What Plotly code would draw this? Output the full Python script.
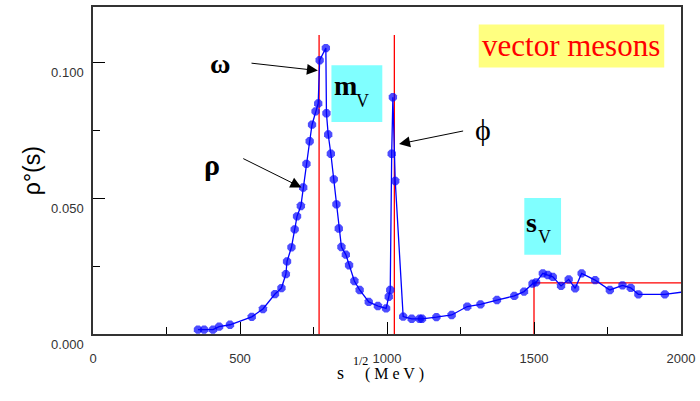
import plotly.graph_objects as go

# ---- data ----
sqrt_s = [357, 378, 408, 429, 466, 540, 578, 619, 641, 656, 660, 675, 686, 694, 707,
          715, 726, 737, 745, 757, 766, 771, 792, 794, 800, 809, 819, 828, 836, 845,
          860, 871, 889, 907, 938, 969, 997, 1006, 1011, 1016, 1020, 1028, 1055, 1084,
          1111, 1119, 1168, 1220, 1273, 1318, 1374, 1433, 1466, 1495, 1507, 1530, 1547,
          1564, 1592, 1618, 1640, 1662, 1708, 1758, 1801, 1829, 1855, 1945, 2010]
rho = [0.0016, 0.0016, 0.0016, 0.0027, 0.0034, 0.0063, 0.0092, 0.0147, 0.0169, 0.0220,
       0.0267, 0.0319, 0.0385, 0.0433, 0.0471, 0.0539, 0.0626, 0.0709, 0.0770, 0.0819,
       0.0848, 0.1007, 0.1052, 0.0812, 0.0734, 0.0663, 0.0569, 0.0477, 0.0388, 0.0320,
       0.0292, 0.0253, 0.0195, 0.0162, 0.0118, 0.0103, 0.0094, 0.0137, 0.0162, 0.0663,
       0.0871, 0.0563, 0.0064, 0.0056, 0.0056, 0.0056, 0.0062, 0.0070, 0.0101, 0.0109,
       0.0125, 0.0140, 0.0156, 0.0185, 0.0190, 0.0223, 0.0217, 0.0210, 0.0177, 0.0201,
       0.0168, 0.0223, 0.0198, 0.0162, 0.0179, 0.0170, 0.0146, 0.0146, 0.0155]
# last point is only the continuation of the line past the frame
marker_sizes = [9] * (len(sqrt_s) - 1) + [0]

mass_lines = [769, 1025]      # m_V vertical lines
mass_line_top = 0.110
threshold_x = [1500, 1500, 2000]   # s_V step
threshold_y = [0.0, 0.0188, 0.0188]

x_ticks = [0, 500, 1000, 1500, 2000]
y_ticks = [0.0, 0.05, 0.10]

RED = "#ff0000"
BLUE = "#0000ff"

fig = go.Figure()

for xm in mass_lines:
    fig.add_trace(go.Scatter(x=[xm, xm], y=[0, mass_line_top], mode="lines",
                             line=dict(color=RED, width=1.3), hoverinfo="skip"))
fig.add_trace(go.Scatter(x=threshold_x, y=threshold_y, mode="lines",
                         line=dict(color=RED, width=1.3), hoverinfo="skip"))

fig.add_trace(go.Scatter(x=sqrt_s, y=rho, mode="lines+markers",
                         line=dict(color=BLUE, width=1.3),
                         marker=dict(color=BLUE, size=marker_sizes, symbol="octagon",
                                     line=dict(width=0))))

# ---- boxes ----
fig.add_shape(type="rect", x0=811, x1=984, y0=0.0780, y1=0.0989,
              fillcolor="#80ffff", line=dict(width=0), layer="below")
fig.add_shape(type="rect", x0=1467, x1=1592, y0=0.0292, y1=0.0500,
              fillcolor="#80ffff", line=dict(width=0), layer="below")
fig.add_shape(type="rect", x0=1312, x1=1943, y0=0.0980, y1=0.1139,
              fillcolor="#ffff80", line=dict(width=0), layer="below")

serif = "Liberation Serif"
ann = []
ann.append(dict(x=1627, y=0.1060, text="vector mesons", showarrow=False,
                font=dict(family=serif, size=31, color=RED)))
ann.append(dict(x=858, y=0.0915, text="<b>m</b>", showarrow=False,
                font=dict(family=serif, size=28, color="black")))
ann.append(dict(x=918, y=0.0858, text="V", showarrow=False,
                font=dict(family=serif, size=18, color="black")))
ann.append(dict(x=1493, y=0.0411, text="<b>s</b>", showarrow=False,
                font=dict(family=serif, size=28, color="black")))
ann.append(dict(x=1537, y=0.0358, text="V", showarrow=False,
                font=dict(family=serif, size=18, color="black")))
ann.append(dict(x=432, y=0.0994, text="<b>ω</b>", showarrow=False,
                font=dict(family=serif, size=28, color="black")))
ann.append(dict(x=405, y=0.0625, text="<b>ρ</b>", showarrow=False,
                font=dict(family=serif, size=30, color="black")))
ann.append(dict(x=1326, y=0.0752, text="ϕ", showarrow=False,
                font=dict(family=serif, size=30, color="black")))
# arrows
for (x0, y0, x1, y1) in [(534, 0.0997, 765, 0.0969),
                         (506, 0.0648, 709, 0.0539),
                         (1264, 0.0748, 1041, 0.0699)]:
    ann.append(dict(x=x1, y=y1, ax=x0, ay=y0, xref="x", yref="y", axref="x", ayref="y",
                    text="", showarrow=True, arrowhead=2, arrowsize=2.2,
                    arrowwidth=1, arrowcolor="black"))

# axis titles
ann.append(dict(xref="paper", yref="paper", x=(32 - 93) / 590, y=(334.3 - 170) / 329.6,
                xanchor="center", yanchor="middle",
                text="ρ°(s)", textangle=-90, showarrow=False,
                font=dict(family="Liberation Sans", size=23, color="black")))
ann.append(dict(xref="paper", yref="paper", x=(341 - 93) / 590, y=(334.3 - 386) / 329.6,
                xanchor="center", text="s", showarrow=False,
                font=dict(family=serif, size=18, color="black")))
ann.append(dict(xref="paper", yref="paper", x=(361 - 93) / 590, y=(334.3 - 371) / 329.6,
                xanchor="center", text="1/2", showarrow=False,
                font=dict(family=serif, size=12, color="black")))
ann.append(dict(xref="paper", yref="paper", x=(396 - 93) / 590, y=(334.3 - 386) / 329.6,
                xanchor="center", text="( M e V )", showarrow=False,
                font=dict(family=serif, size=16, color="black")))

fig.update_layout(
    width=700, height=401,
    margin=dict(l=93, r=17, t=5, b=66.7),
    paper_bgcolor="white", plot_bgcolor="white",
    showlegend=False,
    annotations=ann,
    xaxis=dict(range=[0, 2000], tickvals=x_ticks, ticktext=[str(v) for v in x_ticks],
               ticks="inside", ticklen=12, tickwidth=1.2, tickcolor="black",
               showgrid=False, zeroline=False, showline=True, linecolor="#333",
               linewidth=1.5, mirror=True,
               tickfont=dict(family="Liberation Sans", size=13, color="#333"),
               ticklabelstandoff=12,
               minor=dict(tickvals=[250, 750, 1250, 1750], ticks="inside", ticklen=7,
                          tickcolor="black", tickwidth=1.2)),
    yaxis=dict(range=[0, 0.1203], tickvals=y_ticks, tickformat=".3f",
               ticks="inside", ticklen=12, tickwidth=1.2, tickcolor="black",
               showgrid=False, zeroline=False, showline=True, linecolor="#333",
               linewidth=1.5, mirror=True,
               tickfont=dict(family="Liberation Sans", size=13, color="#333"),
               ticklabelshift=10, ticklabelstandoff=5,
               minor=dict(tickvals=[0.025, 0.075], ticks="inside", ticklen=7,
                          tickcolor="black", tickwidth=1.2)),
)

fig.write_html("out.html", config={"displayModeBar": False},
               post_script="document.body.style.margin='0';document.body.style.padding='0';")
